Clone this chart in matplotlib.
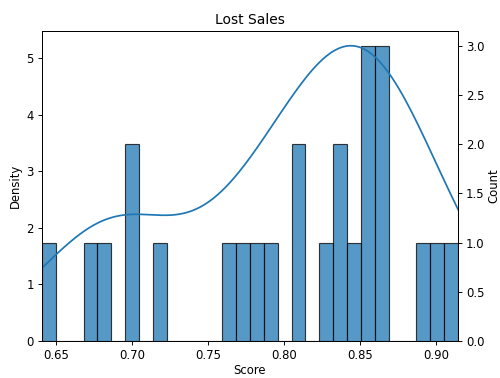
import numpy as np
import matplotlib
matplotlib.use("Agg")
import matplotlib.pyplot as plt

# Scores behind the "Lost Sales" distribution
scores = [
    0.6408,
    0.6720, 0.6805,
    0.6970, 0.7005,
    0.7160,
    0.7660, 0.7750, 0.7840, 0.7930,
    0.8080, 0.8110,
    0.8280,
    0.8350, 0.8390,
    0.8460,
    0.8520, 0.8550, 0.8580,
    0.8610, 0.8640, 0.8670,
    0.8917, 0.9008, 0.9145,
]
n_bins = 30
bw_adjust = 0.97

data = np.asarray(scores)
lo, hi = data.min(), data.max()

DPI = 500 / 6.0
fig = plt.figure(figsize=(6.0, 378 / DPI), dpi=DPI)
ax = fig.add_axes([0.084, 0.098, 0.832, 0.820])
ax2 = ax.twinx()

# Histogram of counts on the right axis
counts, edges = np.histogram(data, bins=n_bins, range=(lo, hi))
ax2.bar(edges[:-1], counts, width=np.diff(edges), align="edge",
        color="#1f77b4", alpha=0.75, edgecolor="black", linewidth=1.0)
ax2.set_ylim(0, counts.max() * 1.05)
ax2.set_ylabel("Count", labelpad=2.5)

# Gaussian KDE (Scott's rule) on the left axis
bw = bw_adjust * data.std(ddof=1) * len(data) ** (-1 / 5)
xs = np.linspace(lo - 3 * bw, hi + 3 * bw, 400)
dens = np.exp(-0.5 * ((xs[:, None] - data[None, :]) / bw) ** 2).sum(axis=1)
dens /= len(data) * bw * np.sqrt(2 * np.pi)
ax.plot(xs, dens, color="#1f77b4", linewidth=1.5)
ax.set_ylim(0, dens.max() * 1.05)
ax.set_ylabel("Density")

ax.set_zorder(ax2.get_zorder() + 1)
ax.patch.set_visible(False)

ax.set_xlim(lo, hi)
ax.set_xlabel("Score", labelpad=1.5)
ax.set_title("Lost Sales")

fig.savefig("out.png", dpi=DPI)
